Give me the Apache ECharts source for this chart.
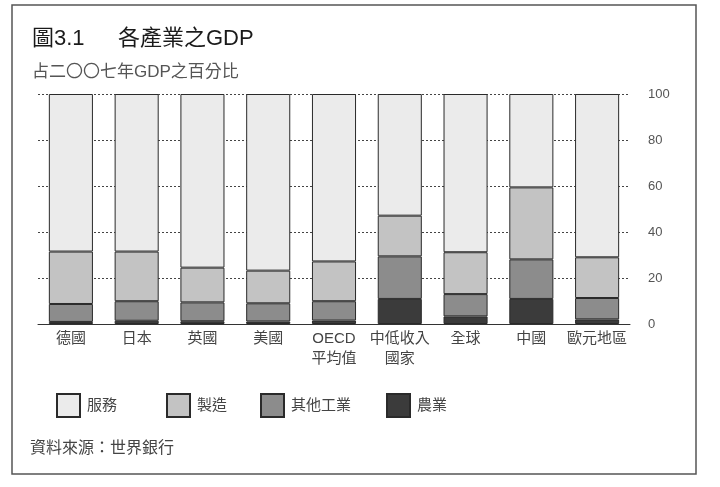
<!DOCTYPE html>
<html><head><meta charset="utf-8">
<script src="https://cdn.jsdelivr.net/npm/echarts@6/dist/echarts.min.js"></script>
<style>html,body{margin:0;padding:0;background:#fff}#c{width:720px;height:487px}</style>
</head><body><div id="c"></div>
<script>
var categories = ['德國','日本','英國','美國','OECD\n平均值','中低收入\n國家','全球','中國','歐元地區'];
var agriculture = [0.9, 1.4, 1.2, 1.1, 1.5, 10.9, 3.3, 10.9, 2.0];
var otherIndustry = [7.8, 8.5, 8.2, 7.9, 8.4, 18.5, 9.7, 17.2, 9.3];
var manufacturing = [22.8, 21.6, 15.1, 14.2, 17.3, 17.7, 18.2, 31.3, 17.7];
var services = [68.5, 68.5, 75.5, 76.8, 72.8, 52.9, 68.8, 40.6, 71.0];
var yTicks = [0, 20, 40, 60, 80, 100];

var FONT = '"Liberation Sans", Arial, "Noto Sans CJK TC", sans-serif';
var chart = echarts.init(document.getElementById('c'));
var border = {borderColor:'#2a2a2a', borderWidth:1};
function mkSeries(name, data, color){
  return {name:name, type:'bar', stack:'total', data:data, barCategoryGap:'33%',
    itemStyle:Object.assign({color:color}, border)};
}
function mkLegend(name, left){
  return {data:[name], left:left, top:388, itemWidth:23, itemHeight:23, icon:'rect',
    textStyle:{fontFamily:FONT, fontSize:15, color:'#444', padding:[0,0,0,2]}};
}
chart.setOption({
  backgroundColor:'#fff',
  animation:false,
  title:[
    {text:'圖3.1', left:27, top:23, textStyle:{fontFamily:FONT, fontSize:22, fontWeight:'normal', color:'#1a1a1a'}},
    {text:'各產業之GDP', left:113, top:23, textStyle:{fontFamily:FONT, fontSize:22, fontWeight:'normal', color:'#1a1a1a'}},
    {text:'占二〇〇七年GDP之百分比', left:27, top:59, textStyle:{fontFamily:FONT, fontSize:17, fontWeight:'normal', color:'#555'}},
    {text:'資料來源：世界銀行', left:25, top:436, textStyle:{fontFamily:FONT, fontSize:16, fontWeight:'normal', color:'#444'}}
  ],
  graphic:[{type:'rect', shape:{x:12, y:5, width:684, height:469}, style:{fill:'none', stroke:'#555', lineWidth:1.5}, silent:true}],
  legend:[mkLegend('服務',51), mkLegend('製造',161), mkLegend('其他工業',255), mkLegend('農業',381)],
  grid:{left:38, right:90, top:94, bottom:163},
  xAxis:{type:'category', data:categories,
    axisLine:{lineStyle:{color:'#333', width:1}}, axisTick:{show:false},
    axisLabel:{fontFamily:FONT, fontSize:15, color:'#444', margin:5, lineHeight:20, interval:0}},
  yAxis:{type:'value', position:'right', min:yTicks[0], max:yTicks[yTicks.length-1], interval:20,
    axisLine:{show:false}, axisTick:{show:false},
    axisLabel:{fontFamily:FONT, fontSize:13, color:'#555', margin:18, align:'left'},
    splitLine:{lineStyle:{color:'#444', width:1, type:[2,2]}}},
  series:[
    mkSeries('農業', agriculture, '#3b3b3b'),
    mkSeries('其他工業', otherIndustry, '#8c8c8c'),
    mkSeries('製造', manufacturing, '#c3c3c3'),
    mkSeries('服務', services, '#ebebeb')
  ]
});
</script></body></html>
